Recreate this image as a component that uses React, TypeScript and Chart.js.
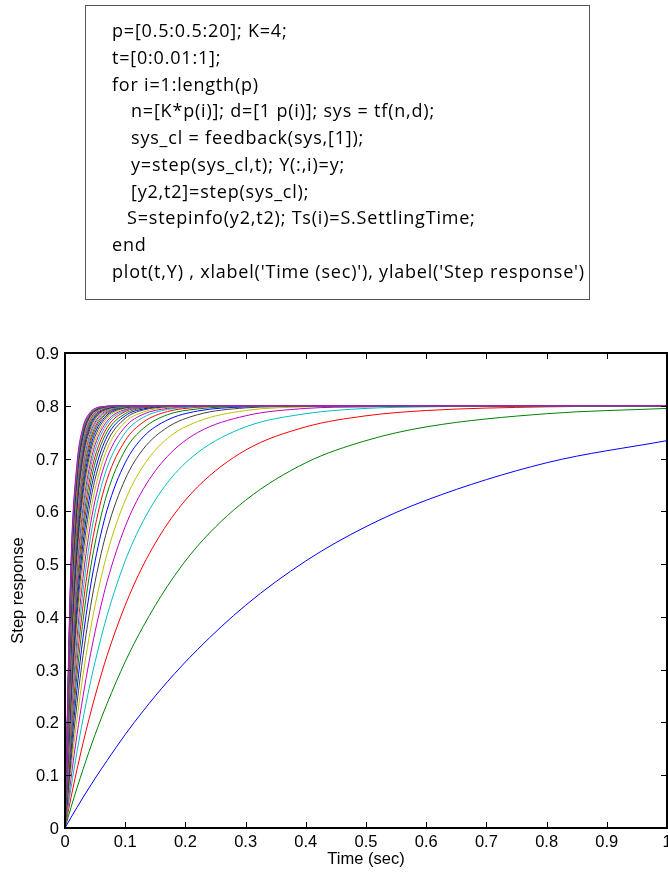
import React, { useEffect, useRef } from "react";
import { Chart, registerables } from "chart.js";

Chart.register(...registerables);

const times = [0, 0.01, 0.02, 0.03, 0.04, 0.05, 0.07, 0.1, 0.13, 0.17, 0.22, 0.3, 0.4, 0.5, 0.6, 0.8, 1.0];

// step responses, one array per p = 0.5, 1.0, ..., 20
const y01 = [0, 0.020, 0.039, 0.058, 0.076, 0.094, 0.128, 0.177, 0.222, 0.277, 0.338, 0.422, 0.506, 0.571, 0.621, 0.692, 0.734];
const y02 = [0, 0.039, 0.076, 0.111, 0.145, 0.177, 0.236, 0.315, 0.382, 0.458, 0.534, 0.621, 0.692, 0.734, 0.760, 0.785, 0.795];
const y03 = [0, 0.058, 0.111, 0.161, 0.207, 0.250, 0.327, 0.422, 0.498, 0.576, 0.646, 0.716, 0.760, 0.781, 0.791, 0.798, 0.800];
const y04 = [0, 0.076, 0.145, 0.207, 0.264, 0.315, 0.403, 0.506, 0.582, 0.654, 0.711, 0.760, 0.785, 0.795, 0.798, 0.800, 0.800];
const y05 = [0, 0.094, 0.177, 0.250, 0.315, 0.372, 0.467, 0.571, 0.642, 0.704, 0.749, 0.781, 0.795, 0.798, 0.800, 0.800, 0.800];
const y06 = [0, 0.111, 0.207, 0.290, 0.361, 0.422, 0.520, 0.621, 0.686, 0.738, 0.770, 0.791, 0.798, 0.800, 0.800, 0.800, 0.800];
const y07 = [0, 0.128, 0.236, 0.327, 0.403, 0.467, 0.565, 0.661, 0.718, 0.759, 0.783, 0.796, 0.799, 0.800, 0.800, 0.800, 0.800];
const y08 = [0, 0.145, 0.264, 0.361, 0.441, 0.506, 0.603, 0.692, 0.741, 0.773, 0.790, 0.798, 0.800, 0.800, 0.800, 0.800, 0.800];
const y09 = [0, 0.161, 0.290, 0.393, 0.475, 0.540, 0.634, 0.716, 0.757, 0.783, 0.794, 0.799, 0.800, 0.800, 0.800, 0.800, 0.800];
const y10 = [0, 0.177, 0.315, 0.422, 0.506, 0.571, 0.661, 0.734, 0.769, 0.789, 0.797, 0.800, 0.800, 0.800, 0.800, 0.800, 0.800];
const y11 = [0, 0.192, 0.338, 0.449, 0.534, 0.598, 0.683, 0.749, 0.778, 0.793, 0.798, 0.800, 0.800, 0.800, 0.800, 0.800, 0.800];
const y12 = [0, 0.207, 0.361, 0.475, 0.559, 0.621, 0.702, 0.760, 0.784, 0.795, 0.799, 0.800, 0.800, 0.800, 0.800, 0.800, 0.800];
const y13 = [0, 0.222, 0.382, 0.498, 0.582, 0.642, 0.718, 0.769, 0.788, 0.797, 0.799, 0.800, 0.800, 0.800, 0.800, 0.800, 0.800];
const y14 = [0, 0.236, 0.403, 0.520, 0.603, 0.661, 0.731, 0.776, 0.792, 0.798, 0.800, 0.800, 0.800, 0.800, 0.800, 0.800, 0.800];
const y15 = [0, 0.250, 0.422, 0.540, 0.621, 0.677, 0.742, 0.781, 0.794, 0.799, 0.800, 0.800, 0.800, 0.800, 0.800, 0.800, 0.800];
const y16 = [0, 0.264, 0.441, 0.559, 0.638, 0.692, 0.751, 0.785, 0.796, 0.799, 0.800, 0.800, 0.800, 0.800, 0.800, 0.800, 0.800];
const y17 = [0, 0.277, 0.458, 0.576, 0.654, 0.704, 0.759, 0.789, 0.797, 0.799, 0.800, 0.800, 0.800, 0.800, 0.800, 0.800, 0.800];
const y18 = [0, 0.290, 0.475, 0.593, 0.668, 0.716, 0.766, 0.791, 0.798, 0.800, 0.800, 0.800, 0.800, 0.800, 0.800, 0.800, 0.800];
const y19 = [0, 0.302, 0.491, 0.608, 0.680, 0.726, 0.771, 0.793, 0.798, 0.800, 0.800, 0.800, 0.800, 0.800, 0.800, 0.800, 0.800];
const y20 = [0, 0.315, 0.506, 0.621, 0.692, 0.734, 0.776, 0.795, 0.799, 0.800, 0.800, 0.800, 0.800, 0.800, 0.800, 0.800, 0.800];
const y21 = [0, 0.327, 0.520, 0.634, 0.702, 0.742, 0.780, 0.796, 0.799, 0.800, 0.800, 0.800, 0.800, 0.800, 0.800, 0.800, 0.800];
const y22 = [0, 0.338, 0.534, 0.646, 0.711, 0.749, 0.783, 0.797, 0.799, 0.800, 0.800, 0.800, 0.800, 0.800, 0.800, 0.800, 0.800];
const y23 = [0, 0.350, 0.547, 0.657, 0.720, 0.755, 0.786, 0.797, 0.800, 0.800, 0.800, 0.800, 0.800, 0.800, 0.800, 0.800, 0.800];
const y24 = [0, 0.361, 0.559, 0.668, 0.727, 0.760, 0.788, 0.798, 0.800, 0.800, 0.800, 0.800, 0.800, 0.800, 0.800, 0.800, 0.800];
const y25 = [0, 0.372, 0.571, 0.677, 0.734, 0.765, 0.790, 0.798, 0.800, 0.800, 0.800, 0.800, 0.800, 0.800, 0.800, 0.800, 0.800];
const y26 = [0, 0.382, 0.582, 0.686, 0.741, 0.769, 0.792, 0.799, 0.800, 0.800, 0.800, 0.800, 0.800, 0.800, 0.800, 0.800, 0.800];
const y27 = [0, 0.393, 0.593, 0.694, 0.746, 0.773, 0.793, 0.799, 0.800, 0.800, 0.800, 0.800, 0.800, 0.800, 0.800, 0.800, 0.800];
const y28 = [0, 0.403, 0.603, 0.702, 0.751, 0.776, 0.794, 0.799, 0.800, 0.800, 0.800, 0.800, 0.800, 0.800, 0.800, 0.800, 0.800];
const y29 = [0, 0.413, 0.612, 0.709, 0.756, 0.779, 0.795, 0.799, 0.800, 0.800, 0.800, 0.800, 0.800, 0.800, 0.800, 0.800, 0.800];
const y30 = [0, 0.422, 0.621, 0.716, 0.760, 0.781, 0.796, 0.800, 0.800, 0.800, 0.800, 0.800, 0.800, 0.800, 0.800, 0.800, 0.800];
const y31 = [0, 0.431, 0.630, 0.722, 0.764, 0.783, 0.796, 0.800, 0.800, 0.800, 0.800, 0.800, 0.800, 0.800, 0.800, 0.800, 0.800];
const y32 = [0, 0.441, 0.638, 0.727, 0.767, 0.785, 0.797, 0.800, 0.800, 0.800, 0.800, 0.800, 0.800, 0.800, 0.800, 0.800, 0.800];
const y33 = [0, 0.449, 0.646, 0.733, 0.770, 0.787, 0.798, 0.800, 0.800, 0.800, 0.800, 0.800, 0.800, 0.800, 0.800, 0.800, 0.800];
const y34 = [0, 0.458, 0.654, 0.738, 0.773, 0.789, 0.798, 0.800, 0.800, 0.800, 0.800, 0.800, 0.800, 0.800, 0.800, 0.800, 0.800];
const y35 = [0, 0.467, 0.661, 0.742, 0.776, 0.790, 0.798, 0.800, 0.800, 0.800, 0.800, 0.800, 0.800, 0.800, 0.800, 0.800, 0.800];
const y36 = [0, 0.475, 0.668, 0.746, 0.778, 0.791, 0.799, 0.800, 0.800, 0.800, 0.800, 0.800, 0.800, 0.800, 0.800, 0.800, 0.800];
const y37 = [0, 0.483, 0.674, 0.750, 0.780, 0.792, 0.799, 0.800, 0.800, 0.800, 0.800, 0.800, 0.800, 0.800, 0.800, 0.800, 0.800];
const y38 = [0, 0.491, 0.680, 0.754, 0.782, 0.793, 0.799, 0.800, 0.800, 0.800, 0.800, 0.800, 0.800, 0.800, 0.800, 0.800, 0.800];
const y39 = [0, 0.498, 0.686, 0.757, 0.784, 0.794, 0.799, 0.800, 0.800, 0.800, 0.800, 0.800, 0.800, 0.800, 0.800, 0.800, 0.800];
const y40 = [0, 0.506, 0.692, 0.760, 0.785, 0.795, 0.799, 0.800, 0.800, 0.800, 0.800, 0.800, 0.800, 0.800, 0.800, 0.800, 0.800];

const responses = [
  y01, y02, y03, y04, y05, y06, y07, y08, y09, y10,
  y11, y12, y13, y14, y15, y16, y17, y18, y19, y20,
  y21, y22, y23, y24, y25, y26, y27, y28, y29, y30,
  y31, y32, y33, y34, y35, y36, y37, y38, y39, y40,
];

// MATLAB default line colour order (b, g, r, c, m, y, k)
const lineColors = ["#0000ff", "#008000", "#ff0000", "#00bfbf", "#bf00bf", "#bfbf00", "#404040"];

const xTicks = [0, 0.1, 0.2, 0.3, 0.4, 0.5, 0.6, 0.7, 0.8, 0.9, 1];
const yTicks = [0, 0.1, 0.2, 0.3, 0.4, 0.5, 0.6, 0.7, 0.8, 0.9];

const xTitle = "Time (sec)";
const yTitle = "Step response";

const codeLines: { text: string; left: number }[] = [
  { text: "p=[0.5:0.5:20]; K=4;", left: 112 },
  { text: "t=[0:0.01:1];", left: 112 },
  { text: "for i=1:length(p)", left: 112 },
  { text: "n=[K*p(i)]; d=[1 p(i)]; sys = tf(n,d);", left: 131 },
  { text: "sys_cl = feedback(sys,[1]);", left: 131 },
  { text: "y=step(sys_cl,t); Y(:,i)=y;", left: 131 },
  { text: "[y2,t2]=step(sys_cl);", left: 131 },
  { text: "S=stepinfo(y2,t2); Ts(i)=S.SettlingTime;", left: 127 },
  { text: "end", left: 112 },
  { text: "plot(t,Y) , xlabel('Time (sec)'), ylabel('Step response')", left: 112 },
];

const FONT = "'Liberation Sans', Arial, Helvetica, sans-serif";

const matlabAxes = {
  id: "matlabAxes",
  afterDatasetsDraw(chart: any) {
    const { ctx, chartArea, scales } = chart;
    const { left, right, top, bottom } = chartArea;
    const xs = scales.x;
    const ys = scales.y;
    ctx.save();
    ctx.strokeStyle = "#000";
    ctx.lineWidth = 1;
    ctx.beginPath();
    for (const v of xTicks) {
      const px = Math.round(xs.getPixelForValue(v)) + 0.5;
      ctx.moveTo(px, bottom);
      ctx.lineTo(px, bottom - 6);
      ctx.moveTo(px, top);
      ctx.lineTo(px, top + 6);
    }
    for (const v of yTicks) {
      const py = Math.round(ys.getPixelForValue(v)) + 0.5;
      ctx.moveTo(left, py);
      ctx.lineTo(left + 6, py);
      ctx.moveTo(right, py);
      ctx.lineTo(right - 6, py);
    }
    ctx.stroke();
    ctx.lineWidth = 2;
    ctx.strokeRect(left, top, right - left, bottom - top);
    ctx.restore();
  },
};

function StepChart() {
  const ref = useRef<HTMLCanvasElement | null>(null);
  useEffect(() => {
    if (!ref.current) return;
    const datasets = responses.map((vals, i) => ({
      label: "p=" + (i + 1) * 0.5,
      data: times.map((t, j) => ({ x: t, y: vals[j] })),
      borderColor: lineColors[i % lineColors.length],
      backgroundColor: lineColors[i % lineColors.length],
      borderWidth: 1,
      pointRadius: 0,
      fill: false,
      cubicInterpolationMode: "monotone" as const,
      order: responses.length - i,
    }));
    const chart = new Chart(ref.current, {
      type: "line",
      data: { datasets },
      plugins: [matlabAxes],
      options: {
        animation: false,
        responsive: false,
        devicePixelRatio: 1,
        events: [],
        layout: { padding: { top: 353, right: 1, left: 0, bottom: 0 } },
        plugins: { legend: { display: false }, tooltip: { enabled: false } },
        scales: {
          x: {
            type: "linear",
            min: 0,
            max: 1,
            afterBuildTicks: (scale: any) => {
              scale.ticks = xTicks.map((v) => ({ value: v }));
            },
            afterFit: (scale: any) => {
              scale.height = 47;
              scale.paddingLeft = 0;
              scale.paddingRight = 0;
            },
            grid: { display: false, drawTicks: false },
            border: { display: false },
            ticks: {
              color: "#000",
              padding: 5,
              maxRotation: 0,
              autoSkip: false,
              font: { family: FONT, size: 16.5 },
              callback: (v: any) => String(Number(Number(v).toFixed(1))),
            },
            title: {
              display: true,
              text: xTitle,
              color: "#000",
              font: { family: FONT, size: 16.5 },
              padding: { top: 0, bottom: 6 },
            },
          },
          y: {
            type: "linear",
            min: 0,
            max: 0.9,
            afterBuildTicks: (scale: any) => {
              scale.ticks = yTicks.map((v) => ({ value: v }));
            },
            afterFit: (scale: any) => {
              scale.width = 65;
              scale.paddingTop = 0;
              scale.paddingBottom = 0;
            },
            grid: { display: false, drawTicks: false },
            border: { display: false },
            ticks: {
              color: "#000",
              padding: 6,
              labelOffset: 1.5,
              autoSkip: false,
              font: { family: FONT, size: 16.5 },
              callback: (v: any) => String(Number(Number(v).toFixed(1))),
            },
            title: {
              display: true,
              text: yTitle,
              color: "#000",
              font: { family: FONT, size: 16.5 },
              padding: { top: 9, bottom: 0 },
            },
          },
        },
      },
    });
    return () => chart.destroy();
  }, []);
  return (
    <canvas
      ref={ref}
      width={668}
      height={875}
      style={{ position: "absolute", left: 0, top: 0, width: 668, height: 875 }}
    />
  );
}

function CodeBox() {
  return (
    <>
      <div
        style={{
          position: "absolute",
          left: 85,
          top: 5,
          width: 505,
          height: 295,
          boxSizing: "border-box",
          border: "1.5px solid #555",
          background: "#fff",
        }}
      />
      <div style={{ position: "absolute", left: 0, top: 17, width: 668 }}>
        {codeLines.map((l, i) => (
          <div
            key={i}
            style={{
              paddingLeft: l.left,
              fontFamily: "'Open Sans', 'Noto Sans', sans-serif",
              fontSize: 18,
              letterSpacing: "0.8px",
              lineHeight: "26.75px",
              height: 26.75,
              whiteSpace: "pre",
              color: "#000",
            }}
          >
            {l.text}
          </div>
        ))}
      </div>
    </>
  );
}

export default function App() {
  return (
    <div style={{ position: "absolute", left: 0, top: 0, width: 668, height: 875, overflow: "hidden" }}>
      <StepChart />
      <CodeBox />
    </div>
  );
}
